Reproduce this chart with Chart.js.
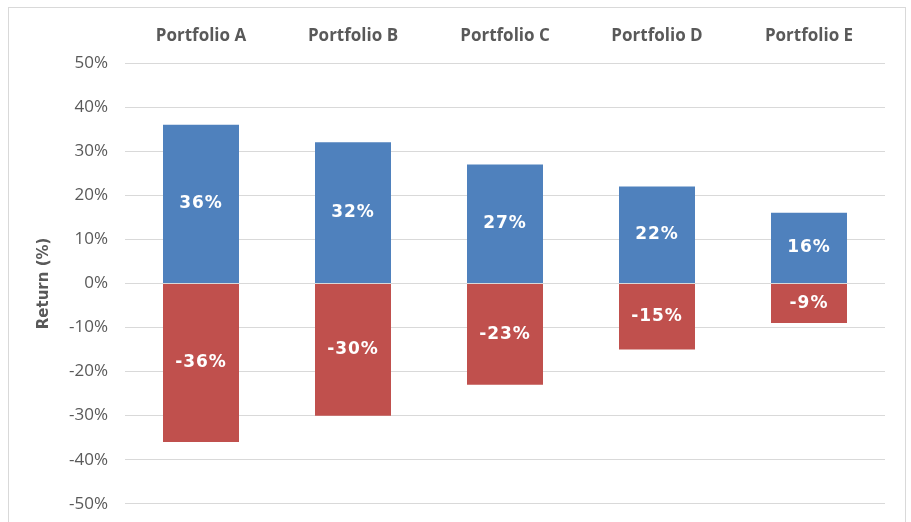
<!DOCTYPE html>
<html>
<head>
<meta charset="utf-8">
<script src="https://cdn.jsdelivr.net/npm/chart.js@4"></script>
<style>
  html, body { margin: 0; padding: 0; background: #fff; overflow: hidden; }
  #box {
    position: absolute; left: 8px; top: 7px; width: 898px; height: 540px;
    border: 1px solid #d9d9d9; box-sizing: border-box;
  }
  #wrap { position: absolute; left: 0; top: 1px; width: 896px; height: 522px; }
</style>
</head>
<body>
<div id="box"><div id="wrap"><canvas id="chart"></canvas></div></div>
<script>
// DATA
const portfolios = ['Portfolio A', 'Portfolio B', 'Portfolio C', 'Portfolio D', 'Portfolio E'];
const gains = [36, 32, 27, 22, 16];
const losses = [-36, -30, -23, -15, -9];
const yTicks = [-50, -40, -30, -20, -10, 0, 10, 20, 30, 40, 50];

const FONT = "'Open Sans', 'DejaVu Sans', sans-serif";
const WIDE = "'DejaVu Sans', Verdana, sans-serif";
const GREY = '#595959';

// labels in the middle of each bar
const barLabels = {
  id: 'barLabels',
  afterDatasetsDraw(chart) {
    const ctx = chart.ctx;
    ctx.save();
    ctx.fillStyle = '#fff';
    ctx.font = 'bold 17px ' + WIDE;
    ctx.letterSpacing = '1px';
    ctx.textAlign = 'center';
    ctx.textBaseline = 'middle';
    chart.data.datasets.forEach((ds, i) => {
      chart.getDatasetMeta(i).data.forEach((bar, j) => {
        const mid = (bar.y + bar.base) / 2;
        ctx.fillText(ds.data[j] + '%', bar.x, mid);
      });
    });
    ctx.restore();
  }
};

new Chart(document.getElementById('chart'), {
  type: 'bar',
  data: {
    labels: portfolios,
    datasets: [
      { label: 'Gain', data: gains, backgroundColor: '#4f81bd', barPercentage: 0.5, categoryPercentage: 1 },
      { label: 'Loss', data: losses, backgroundColor: '#c0504d', barPercentage: 0.5, categoryPercentage: 1 }
    ]
  },
  options: {
    responsive: true,
    maintainAspectRatio: false,
    animation: false,
    layout: { padding: { left: 0, right: 20, top: 0, bottom: 11 } },
    plugins: { legend: { display: false }, tooltip: { enabled: false } },
    scales: {
      x: {
        position: 'top',
        stacked: true,
        grid: { display: false },
        border: { display: false },
        ticks: { color: GREY, padding: 9, font: { family: FONT, size: 17, weight: 'bold' } },
        afterFit(s) { s.height = 54; }
      },
      y: {
        stacked: true,
        min: -50, max: 50,
        afterBuildTicks(s) { s.ticks = yTicks.map(v => ({ value: v })); },
        grid: { color: '#d9d9d9', lineWidth: 1, drawTicks: false },
        border: { display: false },
        ticks: { color: GREY, padding: 17, font: { family: FONT, size: 17 }, callback: v => v + '%' },
        title: { display: true, text: 'Return (%)', color: GREY, padding: { top: 26, bottom: 0 }, font: { family: WIDE, size: 15, weight: 'bold' } },
        afterFit(s) { s.width = 116; }
      }
    }
  },
  plugins: [barLabels]
});
</script>
</body>
</html>
